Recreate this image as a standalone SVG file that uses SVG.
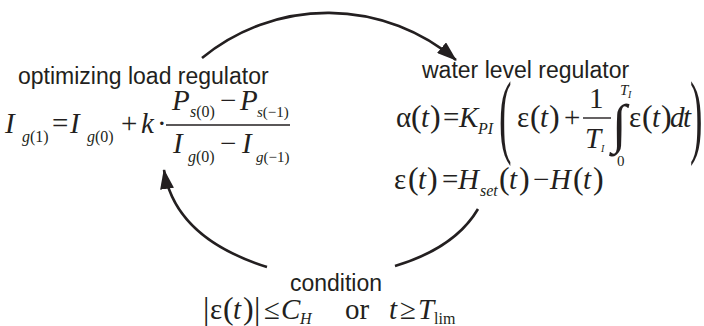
<svg xmlns="http://www.w3.org/2000/svg" width="704" height="326" viewBox="0 0 704 326">
<defs>
<style>
.lab{font-family:"Liberation Sans",Arial,sans-serif;font-size:23px;fill:#231f20}
.m{font-family:"Liberation Serif","Times New Roman",serif;font-size:29px;fill:#231f20}
.i{font-style:italic}
.s{font-size:16px}
.s2{font-size:15px}
.ss{font-size:10px}
.p{font-size:32px}
.conn{fill:none;stroke:#231f20;stroke-width:2.6}
.bar{stroke:#231f20;stroke-width:1.4}
</style>
<marker id="ah" viewBox="0 0 20 14" refX="19" refY="7" markerWidth="20" markerHeight="14" markerUnits="userSpaceOnUse" orient="auto"><path d="M0,0 L20,7 L0,14 z" fill="#231f20"/></marker>
</defs>
<rect width="704" height="326" fill="#fff"/>
<g id="connectors">
<path class="conn" d="M202,58 A198,198 0 0 1 456,60" marker-end="url(#ah)"/>
<path class="conn" d="M267,267 Q175,238 164,170" marker-end="url(#ah)"/>
<path class="conn" d="M478,209 Q455,248 395,266"/>
</g>
<g id="optimizing-load-regulator">
<text class="lab" x="18" y="84">optimizing load regulator</text>
<text class="m"><tspan class="i" x="5" y="133">I</tspan><tspan class="s i" x="22" y="142">g</tspan><tspan class="s">(1)</tspan><tspan x="52" y="133">=</tspan><tspan class="i" x="70" y="133">I</tspan><tspan class="s i" x="87" y="142">g</tspan><tspan class="s">(0)</tspan><tspan x="121" y="133">+</tspan><tspan class="i" x="141" y="133">k</tspan><tspan x="157" y="133">·</tspan><tspan class="i" x="172" y="110">P</tspan><tspan class="s i" x="190" y="117">s</tspan><tspan class="s">(0)</tspan><tspan x="220" y="110">−</tspan><tspan class="i" x="240" y="110">P</tspan><tspan class="s2 i" x="257" y="117">s</tspan><tspan class="s2">(−1)</tspan><tspan class="i" x="173" y="153">I</tspan><tspan class="s i" x="188" y="162">g</tspan><tspan class="s">(0)</tspan><tspan x="220" y="153">−</tspan><tspan class="i" x="242" y="153">I</tspan><tspan class="s2 i" x="256" y="162">g</tspan><tspan class="s2">(−1)</tspan></text>
<line class="bar" x1="166" y1="125" x2="290" y2="125"/>
</g>
<g id="water-level-regulator">
<text class="lab" x="422" y="78">water level regulator</text>
<text class="m"><tspan x="396" y="127">α</tspan><tspan class="p" x="411" y="127">(</tspan><tspan class="i" x="421" y="127">t</tspan><tspan class="p" x="430" y="127">)</tspan><tspan x="443" y="127">=</tspan><tspan class="i" x="459" y="127">K</tspan><tspan class="s i" x="478" y="134">PI</tspan><tspan x="517" y="127">ε</tspan><tspan class="p" x="530" y="127">(</tspan><tspan class="i" x="540" y="127">t</tspan><tspan class="p" x="549" y="127">)</tspan><tspan x="564" y="127">+</tspan><tspan x="589" y="108">1</tspan><tspan class="i" x="585" y="148">T</tspan><tspan class="ss i" x="601" y="152">I</tspan><tspan style="font-size:54px" x="612" y="142">∫</tspan><tspan class="s2 i" x="620" y="95">T</tspan><tspan class="ss i" x="628" y="98">I</tspan><tspan class="s2" x="617" y="166">0</tspan><tspan x="629" y="127">ε</tspan><tspan class="p" x="642" y="127">(</tspan><tspan class="i" x="652" y="127">t</tspan><tspan class="p" x="661" y="127">)</tspan><tspan class="i" x="670" y="127">d</tspan><tspan class="i" x="683" y="127">t</tspan><tspan x="394" y="189">ε</tspan><tspan class="p" x="408" y="189">(</tspan><tspan class="i" x="418" y="189">t</tspan><tspan class="p" x="427" y="189">)</tspan><tspan x="442" y="189">=</tspan><tspan class="i" x="458" y="189">H</tspan><tspan class="s i" x="480" y="196">set</tspan><tspan class="p" x="499" y="189">(</tspan><tspan class="i" x="509" y="189">t</tspan><tspan class="p" x="519" y="189">)</tspan><tspan x="533" y="189">−</tspan><tspan class="i" x="550" y="189">H</tspan><tspan class="p" x="573" y="189">(</tspan><tspan class="i" x="583" y="189">t</tspan><tspan class="p" x="593" y="189">)</tspan></text>
<line class="bar" x1="583" y1="118" x2="611" y2="118"/>
<text class="m" style="font-size:94px" transform="translate(499,146) scale(0.4,1)">(</text>
<text class="m" style="font-size:94px" transform="translate(690,146) scale(0.4,1)">)</text>
</g>
<g id="condition">
<text class="lab" x="336" y="291" text-anchor="middle">condition</text>
<text class="m"><tspan class="p" x="203" y="319">|</tspan><tspan x="210" y="319">ε</tspan><tspan class="p" x="223" y="319">(</tspan><tspan class="i" x="233" y="319">t</tspan><tspan class="p" x="243" y="319">)</tspan><tspan class="p" x="254" y="319">|</tspan><tspan x="264" y="319">≤</tspan><tspan class="i" x="281" y="319">C</tspan><tspan class="s i" x="300" y="324">H</tspan><tspan x="345" y="319">or</tspan><tspan class="i" x="389" y="319">t</tspan><tspan x="400" y="319">≥</tspan><tspan class="i" x="418" y="319">T</tspan><tspan class="s" x="434" y="324">lim</tspan></text>
</g>
</svg>
